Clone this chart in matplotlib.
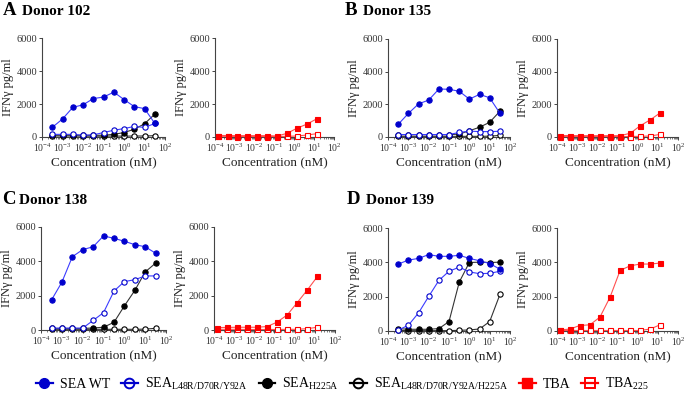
import numpy as np
import matplotlib
matplotlib.use("Agg")
import matplotlib.pyplot as plt
from matplotlib.lines import Line2D
from matplotlib.ticker import LogLocator, NullFormatter

plt.rcParams["font.family"] = ["Liberation Serif", "DejaVu Serif"]
plt.rcParams["mathtext.fontset"] = "custom"
plt.rcParams["mathtext.rm"] = "Liberation Serif"
plt.rcParams["mathtext.it"] = "Liberation Serif:italic"
plt.rcParams["mathtext.bf"] = "Liberation Serif:bold"

# concentrations (nM)
conc_sea = [0.00032, 0.001, 0.0032, 0.01, 0.032, 0.1, 0.32, 1, 3.2, 10, 32]
conc_tba = [0.000135, 0.00043, 0.00135, 0.0043, 0.0135, 0.043, 0.135, 0.43, 1.35, 4.3, 13.5]

donors = ["102", "135", "138", "139"]
panel_letters = ["A", "B", "C", "D"]

# IFN-gamma (pg/ml), one list per donor and construct
wt = {
    "102": [590, 1090, 1800, 1950, 2330, 2420, 2720, 2270, 1840, 1720, 820],
    "135": [780, 1440, 2030, 2260, 2940, 2920, 2800, 2320, 2610, 2400, 1450],
    "138": [1750, 2780, 4270, 4680, 4850, 5480, 5340, 5170, 4970, 4850, 4470],
    "139": [3900, 4130, 4230, 4450, 4350, 4350, 4410, 4230, 4090, 3930, 3600],
}
l48 = {
    "102": [160, 160, 160, 110, 130, 270, 410, 510, 640, 580, 820],
    "135": [150, 150, 150, 150, 150, 150, 280, 360, 330, 330, 350],
    "138": [110, 110, 110, 110, 560, 1010, 2270, 2820, 2930, 3150, 3150],
    "139": [60, 330, 1060, 2010, 2950, 3480, 3720, 3440, 3340, 3360, 3480],
}
h225 = {
    "102": [110, 110, 110, 100, 100, 110, 160, 270, 470, 800, 1390],
    "135": [140, 140, 140, 140, 140, 140, 180, 380, 600, 900, 1580],
    "138": [90, 90, 90, 90, 120, 160, 450, 1400, 2310, 3380, 3900],
    "139": [140, 100, 100, 100, 140, 550, 2850, 3990, 4010, 3990, 4010],
}
quad = {
    "102": [60, 60, 60, 50, 50, 50, 60, 50, 60, 60, 80],
    "135": [40, 40, 40, 40, 40, 40, 40, 40, 40, 50, 100],
    "138": [40, 40, 40, 40, 40, 40, 40, 40, 40, 50, 100],
    "139": [40, 20, 20, 20, 20, 20, 40, 60, 120, 550, 2130],
}
tba = {
    "102": [90, 90, 80, 80, 80, 80, 60, 220, 530, 780, 1100],
    "135": [90, 90, 80, 80, 80, 80, 80, 230, 690, 1060, 1490],
    "138": [140, 150, 160, 160, 160, 200, 460, 880, 1600, 2340, 3120],
    "139": [60, 110, 320, 360, 810, 1980, 3530, 3800, 3900, 3900, 3960],
}
tba225 = {
    "102": [40, 40, 30, 30, 30, 30, 30, 40, 60, 120, 200],
    "135": [30, 30, 30, 30, 30, 30, 30, 30, 40, 60, 165],
    "138": [40, 40, 40, 30, 30, 30, 30, 40, 40, 80, 160],
    "139": [30, 30, 30, 30, 30, 30, 30, 30, 30, 120, 370],
}

BLUE = "#0000cc"
BLUE_LINE = "#3b3bff"
RED = "#ff0000"
RED_LINE = "#ff5050"
BLACK = "#000000"
GREY_LINE = "#333333"

W, H = 685, 413
fig = plt.figure(figsize=(W / 100, H / 100), dpi=100)


def px_axes(x0, x1, ytop, ybot):
    return fig.add_axes([x0 / W, 1 - ybot / H, (x1 - x0) / W, (ybot - ytop) / H])


def style_axes(ax):
    ax.set_xscale("log")
    ax.set_xlim(1e-4, 1e2)
    ax.set_ylim(0, 6000)
    ax.set_yticks([0, 2000, 4000, 6000])
    ax.xaxis.set_major_locator(LogLocator(base=10, numticks=10))
    ax.xaxis.set_minor_locator(LogLocator(base=10, subs=np.arange(2, 10), numticks=20))
    ax.xaxis.set_minor_formatter(NullFormatter())
    for s in ["top", "right"]:
        ax.spines[s].set_visible(False)
    for s in ["left", "bottom"]:
        ax.spines[s].set_color("#444444")
        ax.spines[s].set_linewidth(0.8)
    ax.tick_params(axis="both", which="major", labelsize=7.5, length=2.5, width=0.7,
                   color="#444444", labelcolor="#333333", pad=1)
    ax.tick_params(axis="x", which="minor", length=1.2, width=0.5, color="#444444")
    ax.tick_params(axis="x", which="major", labelsize=7)
    ax.set_ylabel("IFN\u03b3 pg/ml", fontsize=9, color="#222222", labelpad=2)
    ax.set_xlabel("Concentration (nM)", fontsize=9.5, color="#222222", labelpad=2)


def draw(ax, x, y, color, lcolor, marker, filled, ms=3.8):
    ax.plot(x, y, color=lcolor, lw=0.8, marker=marker, markersize=ms,
            markerfacecolor=color if filled else "white", markeredgecolor=color,
            markeredgewidth=0.8, clip_on=False, zorder=3)


# pixel layout of panels: (left x0, x1, right x0, x1, ytop, ybot, title baseline, letter x, donor x)
layout = [
    (42, 165, 215, 334, 38, 137, 15, 3, 22),
    (388, 510, 557, 678, 39, 137, 15, 345, 363),
    (41, 166, 214, 335, 227, 330, 204, 2, 19),
    (388, 510, 557, 678, 228, 331, 204, 347, 366),
]

for d, letter, (lx0, lx1, rx0, rx1, yt, yb, tb, lx, dx) in zip(donors, panel_letters, layout):
    ax1 = px_axes(lx0, lx1, yt, yb)
    style_axes(ax1)
    draw(ax1, conc_sea, quad[d], BLACK, GREY_LINE, "o", False)
    draw(ax1, conc_sea, h225[d], BLACK, GREY_LINE, "o", True)
    draw(ax1, conc_sea, l48[d], BLUE, BLUE_LINE, "o", False)
    draw(ax1, conc_sea, wt[d], BLUE, BLUE_LINE, "o", True)

    ax2 = px_axes(rx0, rx1, yt, yb)
    style_axes(ax2)
    draw(ax2, conc_tba, tba225[d], RED, RED_LINE, "s", False, ms=3.6)
    draw(ax2, conc_tba, tba[d], RED, RED_LINE, "s", True, ms=3.6)

    fig.text(lx / W, 1 - tb / H, letter, fontsize=13.5, fontweight="bold", va="baseline")
    fig.text(dx / W, 1 - tb / H, "Donor " + d, fontsize=11, fontweight="bold", va="baseline")

# legend
handles = [
    Line2D([], [], color=BLUE, lw=1.6, marker="o", markersize=7, markerfacecolor=BLUE),
    Line2D([], [], color=BLUE, lw=1.6, marker="o", markersize=7, markerfacecolor="none", markeredgewidth=1.4),
    Line2D([], [], color=BLACK, lw=1.6, marker="o", markersize=7, markerfacecolor=BLACK),
    Line2D([], [], color=BLACK, lw=1.6, marker="o", markersize=7, markerfacecolor="none", markeredgewidth=1.4),
    Line2D([], [], color=RED, lw=1.6, marker="s", markersize=7, markerfacecolor=RED),
    Line2D([], [], color=RED, lw=1.6, marker="s", markersize=7, markerfacecolor="none", markeredgewidth=1.4),
]
labels = [
    "SEA WT",
    r"SEA$_{\mathregular{L48R/D70R/Y92A}}$",
    r"SEA$_{\mathregular{H225A}}$",
    r"SEA$_{\mathregular{L48R/D70R/Y92A/H225A}}$",
    "TBA",
    r"TBA$_{\mathregular{225}}$",
]
fig.legend(handles, labels, loc="center", bbox_to_anchor=(0.5, 1 - 384 / H), ncol=6,
           frameon=False, fontsize=10, handlelength=1.2, handletextpad=0.5,
           columnspacing=0.8, borderaxespad=0)

fig.savefig("out.png", dpi=100)
